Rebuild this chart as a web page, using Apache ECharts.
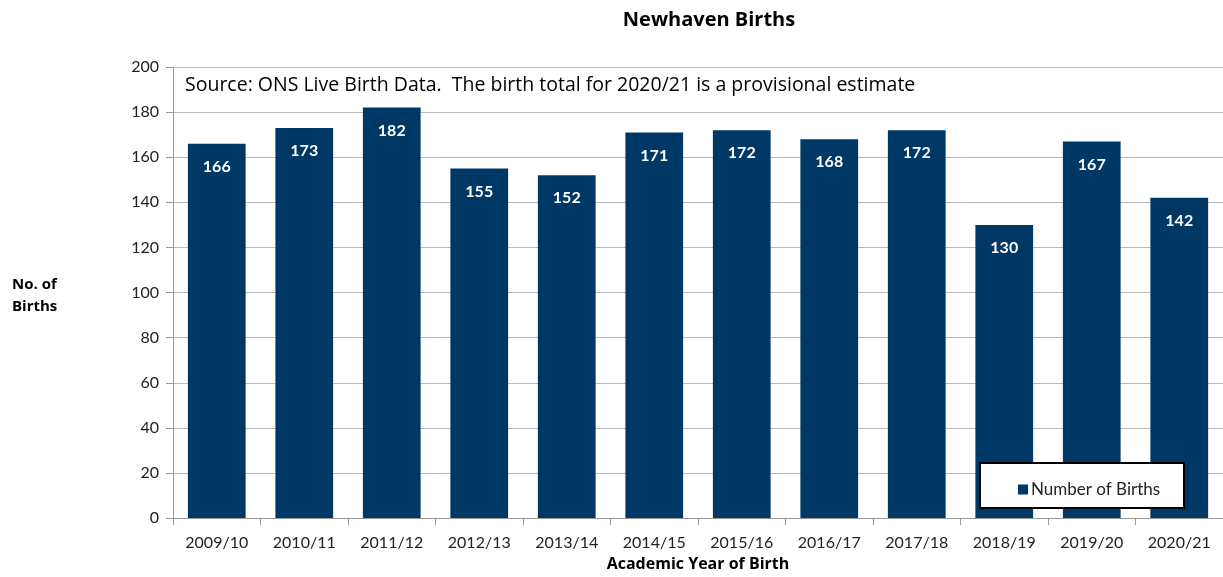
<!DOCTYPE html>
<html>
<head>
<meta charset="utf-8">
<script src="https://cdn.jsdelivr.net/npm/echarts@6/dist/echarts.min.js"></script>
<style>
html,body{margin:0;padding:0;background:#fff;}
#chart{width:1223px;height:577px;}
</style>
</head>
<body>
<div id="chart"></div>
<script>
var categories = ['2009/10','2010/11','2011/12','2012/13','2013/14','2014/15','2015/16','2016/17','2017/18','2018/19','2019/20','2020/21'];
var births = [166,173,182,155,152,171,172,168,172,130,167,142];
var yTicks = {min:0, max:200, interval:20};
var FONT = 'Lato, "Open Sans", sans-serif';
var WIDE = '"Open Sans", Lato, sans-serif';

var chart = echarts.init(document.getElementById('chart'));
chart.setOption({
  backgroundColor:'#fff',
  animation:false,
  title:{
    text:'Newhaven Births',
    left:704, top:5, textAlign:'center',
    textStyle:{fontFamily:WIDE, fontSize:20, fontWeight:'bold', color:'#000'}
  },
  graphic:[
    {type:'text', left:185, top:75, style:{text:'Source: ONS Live Birth Data.  The birth total for 2020/21 is a provisional estimate', font:'19.5px '+WIDE, fill:'#000'}},
    {type:'text', left:12, top:274, style:{text:'No. of\nBirths', font:'bold 15px '+WIDE, fill:'#000', lineHeight:22}},
    {type:'rect', shape:{x:980, y:463, width:204, height:45}, style:{fill:'#fff', stroke:'#000', lineWidth:2}, z:10}
  ],
  legend:{
    data:['Number of Births'],
    left:1013, top:476, itemWidth:10, itemHeight:10, itemGap:6, z:20,
    icon:'rect',
    textStyle:{fontFamily:FONT, fontSize:17, color:'#222', padding:[0,0,0,-2]}
  },
  grid:{left:173, right:0, top:67, bottom:55},
  xAxis:{
    type:'category', data:categories,
    name:'Academic Year of Birth', nameLocation:'middle', nameGap:37,
    nameTextStyle:{fontFamily:WIDE, fontSize:16, fontWeight:'bold', color:'#000'},
    axisLine:{lineStyle:{color:'#999'}},
    axisTick:{show:true, length:7, lineStyle:{color:'#999'}},
    axisLabel:{fontFamily:FONT, fontSize:16, color:'#222', margin:17}
  },
  yAxis:{
    type:'value', min:yTicks.min, max:yTicks.max, interval:yTicks.interval,
    axisLine:{show:true, lineStyle:{color:'#999'}},
    axisTick:{show:true, length:7, lineStyle:{color:'#999'}},
    axisLabel:{fontFamily:FONT, fontSize:16, color:'#222', margin:14},
    splitLine:{lineStyle:{color:'#b8b8b8'}}
  },
  series:[{
    name:'Number of Births', type:'bar', data:births,
    barWidth:'66%',
    itemStyle:{color:'#003865'},
    label:{show:true, position:'insideTop', distance:15, fontFamily:FONT, fontSize:16, fontWeight:'bold', color:'#fff'}
  }]
});
</script>
</body>
</html>
